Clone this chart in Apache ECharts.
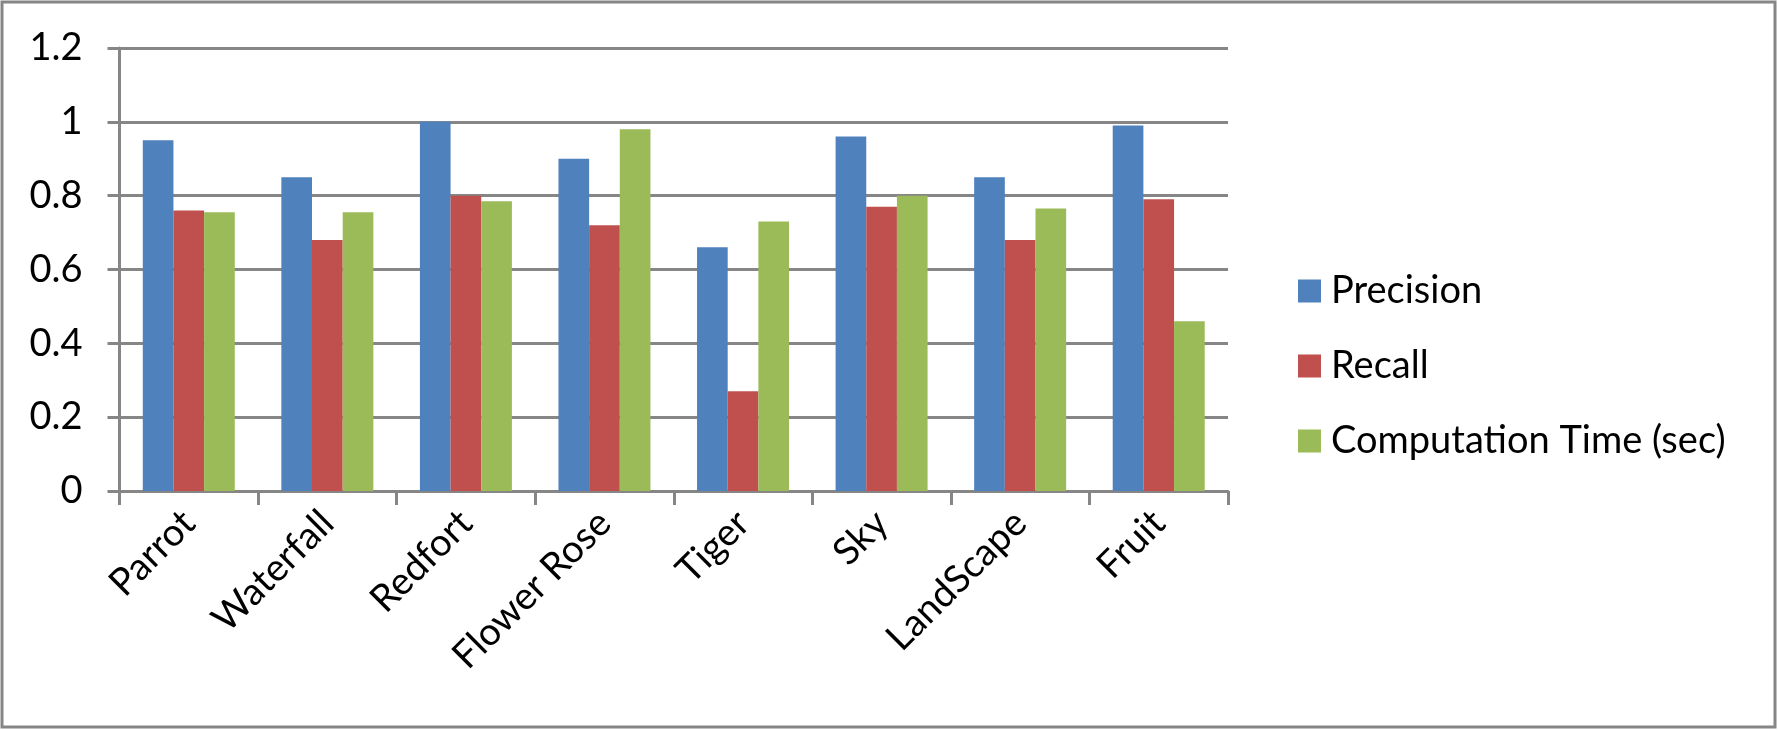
<!DOCTYPE html>
<html>
<head>
<meta charset="utf-8">
<script src="https://cdn.jsdelivr.net/npm/echarts@6/dist/echarts.min.js"></script>
<style>
  html, body { margin: 0; padding: 0; background: #fff; }
  #chart { width: 1778px; height: 730px; }
</style>
</head>
<body>
<div id="chart"></div>
<script>
// image names on the x axis
const categories = ["Parrot", "Waterfall", "Redfort", "Flower Rose", "Tiger", "Sky", "LandScape", "Fruit"];
// values
const precision = [0.95, 0.85, 1.0, 0.90, 0.66, 0.96, 0.85, 0.99];
const recall = [0.76, 0.68, 0.80, 0.72, 0.27, 0.77, 0.68, 0.79];
const computationTime = [0.755, 0.755, 0.785, 0.98, 0.73, 0.80, 0.765, 0.46];
const seriesNames = ["Precision", "Recall", "Computation Time (sec)"];

const FONT = "Lato";
const GRAY = "#868686";

const chart = echarts.init(document.getElementById("chart"));

const option = {
  animation: false,
  backgroundColor: "#fff",
  textStyle: { fontFamily: FONT },
  graphic: [
    {
      type: "rect",
      shape: { x: 2, y: 2, width: 1773, height: 725 },
      style: { fill: "none", stroke: GRAY, lineWidth: 3 }
    }
  ],
  legend: {
    data: seriesNames,
    orient: "vertical",
    left: 1293,
    top: 267,
    itemWidth: 23,
    itemHeight: 23,
    itemGap: 37,
    icon: "rect",
    textStyle: {
      fontFamily: FONT,
      fontSize: 38,
      color: "#000",
      padding: [0, 0, 0, 5]
    }
  },
  grid: {
    left: 119.5,
    right: 550,
    top: 48,
    bottom: 239,
    containLabel: false
  },
  xAxis: {
    type: "category",
    data: categories,
    boundaryGap: true,
    axisLine: { show: true, lineStyle: { color: GRAY, width: 3 } },
    axisTick: { show: true, length: 14, inside: false, lineStyle: { color: GRAY, width: 3 } },
    axisLabel: {
      interval: 0,
      rotate: 45,
      margin: 26,
      fontFamily: FONT,
      fontSize: 38,
      color: "#000"
    },
    splitLine: { show: false }
  },
  yAxis: {
    type: "value",
    min: 0,
    max: 1.2,
    interval: 0.2,
    axisLine: { show: true, lineStyle: { color: GRAY, width: 3 } },
    axisTick: { show: true, length: 12, inside: false, lineStyle: { color: GRAY, width: 3 } },
    axisLabel: {
      margin: 37,
      fontFamily: FONT,
      fontSize: 38,
      color: "#000",
      formatter: function (v) { return String(Math.round(v * 10) / 10); }
    },
    splitLine: { show: true, lineStyle: { color: GRAY, width: 3 } }
  },
  series: [
    {
      name: seriesNames[0],
      type: "bar",
      data: precision,
      barGap: "0%",
      barCategoryGap: "33.6%",
      itemStyle: { color: "#4F81BD" }
    },
    {
      name: seriesNames[1],
      type: "bar",
      data: recall,
      barGap: "0%",
      barCategoryGap: "33.6%",
      itemStyle: { color: "#C0504D" }
    },
    {
      name: seriesNames[2],
      type: "bar",
      data: computationTime,
      barGap: "0%",
      barCategoryGap: "33.6%",
      itemStyle: { color: "#9BBB59" }
    }
  ]
};

chart.setOption(option);
</script>
</body>
</html>
